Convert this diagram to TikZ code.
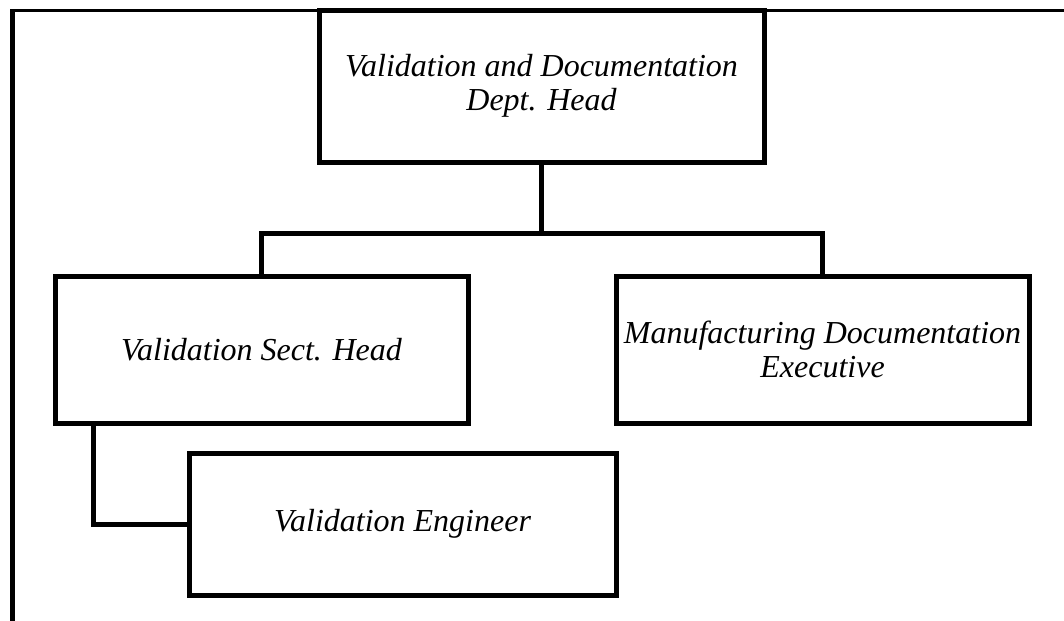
\documentclass[tikz,border=0pt]{standalone}
\usepackage{fontspec}
\setmainfont{Liberation Serif}
\begin{document}
\begin{tikzpicture}[x=0.75pt,y=-0.75pt,
  post/.style={draw=black,line width=3.75pt,rectangle,inner sep=0pt,
    align=center,font=\fontsize{24}{25.5}\selectfont\itshape},
  link/.style={draw=black,line width=3.75pt}]
\useasboundingbox (0,0) rectangle (1064,621);
% page frame
\draw[line width=2.25pt] (10,10.5) -- (1064,10.5);
\draw[line width=3.75pt] (12.5,9.5) -- (12.5,621);
% positions
\node[post,minimum width=445*0.75pt,minimum height=152*0.75pt] (head) at (541.5,86)
  {Validation and Documentation\\Dept. Head};
\node[post,minimum width=413*0.75pt,minimum height=147*0.75pt] (sect) at (261.5,349.5)
  {Validation Sect. Head};
\node[post,minimum width=413*0.75pt,minimum height=147*0.75pt] (mfg) at (822.5,349.5)
  {Manufacturing Documentation\\Executive};
\node[post,minimum width=427*0.75pt,minimum height=142*0.75pt] (eng) at (402.5,524)
  {Validation Engineer};
% reporting lines
\coordinate (bar) at (541.5,233);
\coordinate (drop) at ([xshift=41*0.75pt]sect.south west);
\draw[link] (head.south) -- (bar);
\draw[link] (sect.north) |- (bar) -| (mfg.north);
\draw[link] (drop) |- (eng.west);
\end{tikzpicture}
\end{document}
